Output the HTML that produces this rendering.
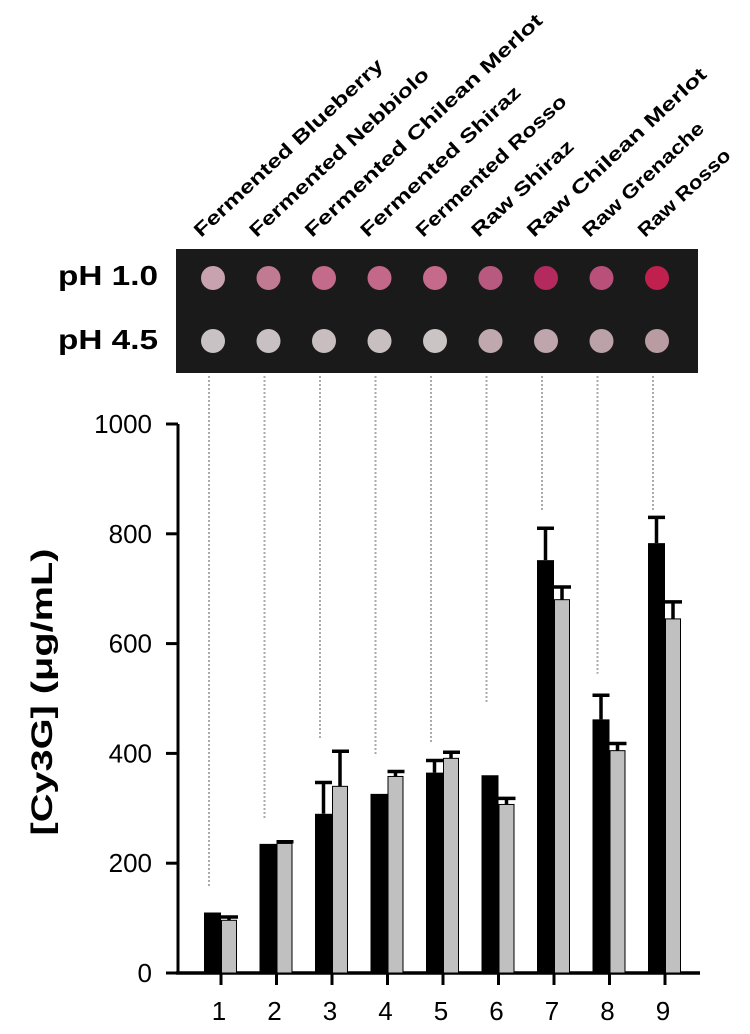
<!DOCTYPE html>
<html><head><meta charset="utf-8"><style>
body{margin:0;background:#fff;}
svg{display:block;font-family:"Liberation Sans",sans-serif;}
</style></head><body>
<svg id="c" width="750" height="1034">
<rect x="176" y="249" width="522" height="124" fill="#1a1a1a"/>
<text x="58" y="285" font-size="28" font-weight="bold" textLength="100" lengthAdjust="spacingAndGlyphs">pH 1.0</text>
<text x="58" y="349" font-size="28" font-weight="bold" textLength="100" lengthAdjust="spacingAndGlyphs">pH 4.5</text>
<g id="dyn"></g>
<text transform="translate(52,692) rotate(-90)" text-anchor="middle" font-size="30" font-weight="bold" textLength="287" lengthAdjust="spacingAndGlyphs">[Cy3G] (μg/mL)</text>
</svg>
<script>
const categories=["1","2","3","4","5","6","7","8","9"];
const sampleNames=["Fermented Blueberry","Fermented Nebbiolo","Fermented Chilean Merlot","Fermented Shiraz","Fermented Rosso","Raw Shiraz","Raw Chilean Merlot","Raw Grenache","Raw Rosso"];
const ph1Values=[107,232,290,323,365,357,752,462,783];
const ph1Errors=[0,0,57,0,22,0,58,44,47];
const ph45Values=[96,236,340,358,391,307,680,405,645];
const ph45Errors=[6,3,64,9,11,11,23,13,31];
const guideEnds=[155,280,425,395,420,490,840,545,840];
const yTicks=[0,200,400,600,800,1000];
const wellColors1=["#c8a2ae","#c07a92","#c46a8a","#c4688a","#c66a8c","#b85a80","#b52a5e","#b8507a","#c0204e"];
const wellColors2=["#c9c2c4","#c8c0c2","#c8bec0","#c8bfc1","#cac4c4","#bfa9ae","#bfa6ac","#bba2a8","#b89ca2"];

const NS="http://www.w3.org/2000/svg";
const g=document.getElementById('dyn');
const y0=973,yPer=0.549;
function yS(v){return y0-v*yPer;}
function xS(i){return 221+i*55.5;}
function el(t,a,p){const e=document.createElementNS(NS,t);for(const k in a)e.setAttribute(k,a[k]);(p||g).appendChild(e);return e;}

const ya=el('line',{x1:178,y1:yS(1000),x2:178,y2:y0+1,stroke:'#000','stroke-width':3});


const xa=el('line',{x1:176,y1:y0,x2:700,y2:y0,stroke:'#000','stroke-width':3.5});


yTicks.forEach(v=>{
 const t=el('line',{x1:166,y1:yS(v),x2:178,y2:yS(v),stroke:'#000','stroke-width':3});
 
 
 const l=el('text',{x:152,y:yS(v)+9,'text-anchor':'end','font-size':26});
 l.textContent=v;
 
 
});
categories.forEach((c,i)=>{
 const x=xS(i);
 const w1=el('circle',{cx:x-8,cy:278,r:12,fill:wellColors1[i]});
 
 
 const w2=el('circle',{cx:x-8,cy:341,r:12,fill:wellColors2[i]});
 
 
 const sl=el('text',{transform:`translate(${x-20},238) rotate(-43)`,'font-size':19,'font-weight':'bold',textLength:sampleNames[i].length*13.2,lengthAdjust:'spacingAndGlyphs'});
 sl.textContent=sampleNames[i];
 
 
 const gl=el('line',{x1:x-12,y1:376,x2:x-12,y2:yS(guideEnds[i]),stroke:'#aaa','stroke-width':2,'stroke-dasharray':'2,2'});
 
 
 const e1=el('path',{d:`M${x-8.5},${yS(ph1Values[i])}V${yS(ph1Values[i]+ph1Errors[i])}M${x-17},${yS(ph1Values[i]+ph1Errors[i])}H${x}`,stroke:'#000','stroke-width':3.5,fill:'none'});
 
 
 const e2=el('path',{d:`M${x+8},${yS(ph45Values[i])}V${yS(ph45Values[i]+ph45Errors[i])}M${x},${yS(ph45Values[i]+ph45Errors[i])}H${x+17}`,stroke:'#000','stroke-width':3.5,fill:'none'});
 
 
 const b1=el('rect',{x:x-17,y:yS(ph1Values[i]),width:17,height:ph1Values[i]*yPer,fill:'#000'});
 
 
 const b2=el('rect',{x:x+0.5,y:yS(ph45Values[i]),width:15,height:ph45Values[i]*yPer,fill:'#c0c0c0',stroke:'#000','stroke-width':1});
 
 
 const xt=el('line',{x1:x,y1:y0,x2:x,y2:y0+12,stroke:'#000','stroke-width':3});
 
 
 const xl=el('text',{x:x-2,y:1020,'text-anchor':'middle','font-size':26});
 xl.textContent=c;
 
 
});
</script>
</body></html>
